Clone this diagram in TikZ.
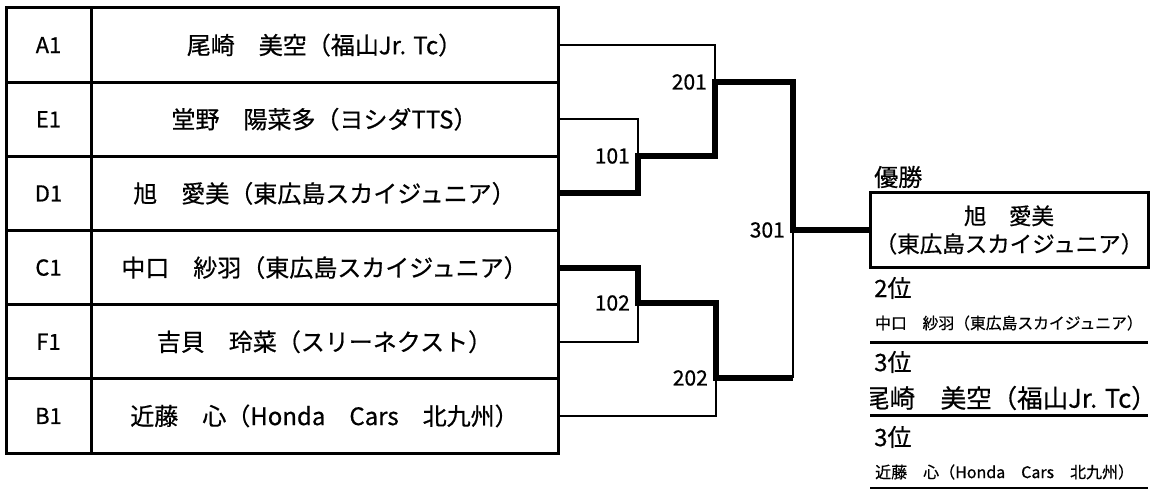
\documentclass[tikz,border=0pt]{standalone}
\usepackage{fontspec}
\setmainfont{Noto Sans CJK JP}[FakeBold=0.6]
\usetikzlibrary{positioning}
\newcommand{\fs}[1]{\fontsize{#1}{#1}\selectfont}
\begin{document}
\begin{tikzpicture}[x=1pt,y=-1pt,
	cell/.style={draw,line width=3pt,inner sep=0pt,outer sep=0pt,minimum height=74.17pt},
	seed/.style={cell,minimum width=85pt,font=\fs{22}},
	player/.style={cell,minimum width=467pt,font=\fs{24}},
	thin/.style={line width=2pt},
	win/.style={line width=6pt},
	mlabel/.style={inner sep=1pt,font=\fs{21}},
	rlabel/.style={anchor=west,inner sep=0pt}]
	\useasboundingbox (0,0) rectangle (1151,489);
	% table of players
	\foreach \s/\n [count=\i] in {A1/{尾崎　美空（福山Jr. Tc）},E1/{堂野　陽菜多（ヨシダTTS）},D1/{旭　愛美（東広島スカイジュニア）},C1/{中口　紗羽（東広島スカイジュニア）},F1/{吉貝　玲菜（スリーネクスト）},B1/{近藤　心（Honda　Cars　北九州）}}{
		\node[seed] (s\i) at (48.5,{45.08+74.17*(\i-1)}) {\s};
		\node[player,right=0pt of s\i] (p\i) {\n};
	}
	% matches
	\coordinate (m101) at (638,156);
	\coordinate (m201) at (715,82);
	\coordinate (m301) at (793,230);
	\coordinate (m102) at (638,303);
	\coordinate (m202) at (716,378);
	\node[mlabel,left=7pt of m101] (l101) {101};
	\node[mlabel,left=7pt of m201] (l201) {201};
	\node[mlabel,left=7pt of m301] (l301) {301};
	\node[mlabel,left=7pt of m102] (l102) {102};
	\node[mlabel,left=7pt of m202] (l202) {202};
	\node[draw,line width=3pt,minimum width=278pt,minimum height=74pt,align=center,font=\fontsize{22.5}{28}\selectfont] (champ) at (1009,230) {旭　愛美\\（東広島スカイジュニア）};
	\draw[thin] (p1.east)-|(m201);
	\draw[thin] (p2.east)-|(m101);
	\draw[thin] (p5.east)-|(m102);
	\draw[thin] (p6.east)-|(m202);
	\draw[thin] (m202-|m301)--(m301);
	\draw[win] (p3.east)-|(m101)-|(m201)-|(m301)--(champ.west);
	\draw[win] (p4.east)-|(m102)-|(m202)--(m202-|m301);
	% results
	\node[rlabel,font=\fs{24}] (first) at (874,177) {優勝};
	\node[rlabel,font=\fs{24}] (second) at (874,288) {2位};
	\node[rlabel,font=\fs{15.8}] (secondname) at (875,323) {中口　紗羽（東広島スカイジュニア）};
	\node[rlabel,font=\fs{24}] (thirdA) at (874,362) {3位};
	\begin{scope}
		\clip (870,378) rectangle (1148,414);
		\node[rlabel,font=\fs{25.5}] (thirdAname) at (864,398) {尾崎　美空（福山Jr. Tc）};
	\end{scope}
	\node[rlabel,font=\fs{24}] (thirdB) at (874,437) {3位};
	\node[rlabel,font=\fs{16}] (thirdBname) at (875,472) {近藤　心（Honda　Cars　北九州）};
	\draw[line width=3pt] (870,342)--(1148,342);
	\draw[line width=3pt] (870,415)--(1148,415);
	\draw[line width=1.5pt] (870,488)--(1148,488);
\end{tikzpicture}
\end{document}
